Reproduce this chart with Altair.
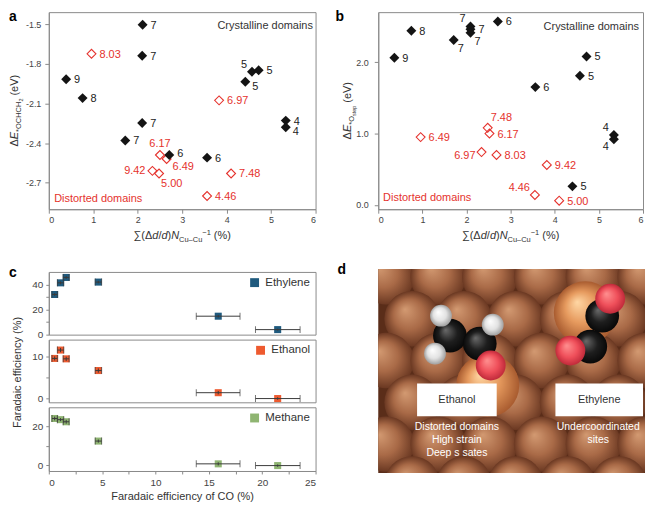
import altair as alt
import pandas as pd

FONT = "Liberation Sans"
RED = "#e5322d"
INK = "#141414"
TXT = "#333333"
FRAME = "#8a8a8a"

# ---------------- panel a : dE*OCHCH2 vs strain ----------------
a_cry_x = [2.11, 2.10, 0.39, 0.76, 4.57, 4.72, 4.42, 5.33, 5.33, 2.10, 1.72, 2.71, 3.56]
a_cry_y = [-1.505, -1.74, -1.917, -2.06, -1.86, -1.85, -1.937, -2.23, -2.28, -2.248, -2.38, -2.49, -2.51]
a_cry_lab = ["7", "7", "9", "8", "5", "5", "5", "4", "4", "7", "7", "6", "6"]
a_cry_pos = ["r", "r", "r", "r", "ul", "r", "rd", "r", "rd", "r", "r", "ru", "r"]
a_dis_x = [0.96, 3.83, 2.50, 2.65, 2.33, 2.48, 4.10, 3.56]
a_dis_y = [-1.725, -2.077, -2.49, -2.52, -2.61, -2.63, -2.63, -2.80]
a_dis_lab = ["8.03", "6.97", "6.17", "6.49", "9.42", "5.00", "7.48", "4.46"]
a_dis_pos = ["r", "r", "u", "rd3", "l", "dr", "r", "r"]
a_yticks = [-2.7, -2.4, -2.1, -1.8, -1.5]

# ---------------- panel b : dE*O vs strain ----------------
b_cry_x = [0.365, 0.75, 1.71, 2.09, 2.09, 2.09, 2.71, 4.72, 4.57, 3.56, 5.34, 5.34, 4.40]
b_cry_y = [2.06, 2.44, 2.31, 2.50, 2.46, 2.41, 2.57, 2.08, 1.81, 1.65, 0.98, 0.92, 0.26]
b_cry_lab = ["9", "8", "7", "7", "7", "7", "6", "5", "5", "6", "4", "4", "5"]
b_cry_pos = ["r", "r", "rd2", "ul", "r", "rd2", "r", "r", "r", "r", "ul", "dl", "r"]
b_dis_x = [0.96, 2.48, 2.52, 2.34, 2.68, 3.82, 3.55, 4.10]
b_dis_y = [0.95, 1.08, 1.00, 0.74, 0.70, 0.56, 0.14, 0.06]
b_dis_lab = ["6.49", "7.48", "6.17", "6.97", "8.03", "9.42", "4.46", "5.00"]
b_dis_pos = ["r", "ur", "r", "ld", "r", "r", "ul", "r"]
b_yticks = [0, 0.5, 1.0, 1.5, 2.0, 2.5]

# ---------------- panel c : Faradaic efficiencies ----------------
c_x = [0.55, 1.10, 1.63, 4.64, 15.88, 21.45]
c_xlo = [0.30, 0.80, 1.35, 4.35, 13.82, 19.37]
c_xhi = [0.80, 1.40, 1.90, 4.95, 17.92, 23.55]
eth_y = [32.0, 41.3, 45.6, 41.9, 14.7, 4.0]
eth_err = [1.2, 1.2, 1.2, 1.0, 1.0, 0.8]
etoh_y = [9.5, 11.5, 9.4, 6.6, 1.3, -0.1]
etoh_err = [0.5, 0.5, 0.5, 0.5, 0.4, 0.3]
ch4_y = [24.2, 23.6, 22.5, 12.5, 0.7, -0.2]
ch4_err = [1.0, 0.8, 1.0, 0.8, 0.8, 0.6]

# ---------------- panel d : illustration (units of the picture box) ----------------
sph_u = [8, 60, 112, 164, 216, 268,
         34, 86, 138, 190, 242,
         8, 60, 112, 164, 216, 268,
         34, 86, 138, 190, 242,
         8, 60, 112, 164, 216, 268,
         34, 86, 138, 190, 242]
sph_v = [8] * 6 + [50] * 5 + [92] * 6 + [134] * 5 + [176] * 6 + [216] * 5
cu_u, cu_v = [110, 208], [117, 44]
blk_u, blk_v = [72, 102, 225, 213], [67, 75, 47, 78]
wht_u, wht_v = [63, 115, 57], [47, 56, 85]
red_u, red_v = [113, 233, 193], [97, 30, 82]
box_u1, box_u2, box_v1, box_v2 = [39, 178], [119, 266], [115, 115], [148, 148]
box_txt, box_tu, box_tv = ["Ethanol", "Ethylene"], [79, 222], [132, 132]
note_txt = ["Distorted domains", "High strain", "Deep s sates", "Undercoordinated", "sites"]
note_u = [79, 79, 79, 221, 221]
note_v = [159, 172, 185, 159, 172]

ONE = pd.DataFrame({"k": [0]})

WID = {' ': .278, '(': .333, ')': .333, 'Δ': .668, 'd': .556, '/': .278, 'N': .722, 'C': .722,
       'u': .556, '–': .556, '−': .584, '1': .556, '%': .889, 'E': .667, '*': .389, 'O': .778,
       'H': .722, '2': .556, 'e': .556, 'V': .667, '∑': .72, 's': .5, 't': .278, 'p': .556}


def tw(t, s):
    return sum(WID.get(ch, .556) for ch in t) * s


def rich(pieces, cx, cy, angle=0):
    widths = [tw(t, s) for t, s, _, _ in pieces]
    off = -sum(widths) / 2
    out = []
    for (t, s, it, sh), w in zip(pieces, widths):
        lead = tw(t[:len(t) - len(t.lstrip())], s)
        o = off + lead
        if angle == 0:
            x, y = cx + o, cy + sh
        else:
            x, y = cx + sh, cy - o
        kw = dict(text=t.strip(), fontSize=s, align="left", baseline="alphabetic", color=TXT, font=FONT)
        if it:
            kw["fontStyle"] = "italic"
        if angle:
            kw["angle"] = angle
        out.append(alt.Chart(ONE).mark_text(**kw).encode(x=alt.value(x), y=alt.value(y)))
        off += w
    return out


def letter(ch, x, y):
    return alt.Chart(ONE).mark_text(text=ch, fontSize=14, fontWeight="bold", align="left",
                                    baseline="top", color="#000", font=FONT).encode(
        x=alt.value(x), y=alt.value(y))


PLACE = {"r": (8, 1, "left"), "ru": (8, -1, "left"), "rd": (7, 5, "left"), "rd3": (6, 8, "left"),
         "ul": (-5, -7, "right"), "u": (0, -11, "center"),
         "l": (-7, 0, "right"), "dr": (2, 11, "left"), "rd2": (4, 9, "left"), "dl": (-5, 8, "right"),
         "ur": (3, -10, "left"), "ld": (-6, 4, "right")}

XTITLE = [("∑(Δ", 11, False, 0), ("d", 11, True, 0), ("/", 11, False, 0), ("d", 11, True, 0),
          (")", 11, False, 0), ("N", 11, True, 0), ("Cu–Cu", 7.5, False, 3), ("−1", 7.5, False, -4),
          (" (%)", 11, False, 0)]


def scatter(cx, cy, clab, cpos, dx, dy, dlab, dpos, ydom, yvals, w, h, yt, yt_x, let, let_x,
            cr_xy, di_xy, ylabpad):
    cry = pd.DataFrame({"x": cx, "y": cy, "lab": clab, "pos": cpos})
    dis = pd.DataFrame({"x": dx, "y": dy, "lab": dlab, "pos": dpos})
    X = alt.X("x:Q", scale=alt.Scale(domain=[0, 6], nice=False),
              axis=alt.Axis(values=[0, 1, 2, 3, 4, 5, 6], title=None, tickSize=4, labelPadding=2))
    Y = alt.Y("y:Q", scale=alt.Scale(domain=ydom, nice=False, zero=False),
              axis=alt.Axis(values=yvals, title=None, tickSize=4, labelPadding=ylabpad,
                            labelExpr="replace(format(datum.value, '.1f'), '\u2212', '-')"))
    layers = [
        alt.Chart(dis).mark_point(shape="diamond", filled=False, color=RED, size=80, strokeWidth=1.1,
                                  opacity=1).encode(x=X, y=Y),
        alt.Chart(cry).mark_point(shape="diamond", filled=True, color=INK, size=100, opacity=1).encode(x=X, y=Y),
    ]
    for df, col in ((cry, "#222"), (dis, RED)):
        for p in sorted(set(df["pos"])):
            ddx, ddy, al = PLACE[p]
            layers.append(alt.Chart(df).transform_filter(alt.datum.pos == p).mark_text(
                dx=ddx, dy=ddy, align=al, baseline="middle", fontSize=11, color=col, font=FONT).encode(
                x=X, y=Y, text="lab:N"))
    layers.append(alt.Chart(ONE).mark_text(text="Crystalline domains", align="right", baseline="middle",
                                           fontSize=11, color=TXT, font=FONT).encode(
        x=alt.datum(cr_xy[0]), y=alt.datum(cr_xy[1])))
    layers.append(alt.Chart(ONE).mark_text(text="Distorted domains", align="left", baseline="middle",
                                           fontSize=11, color=RED, font=FONT).encode(
        x=alt.datum(di_xy[0]), y=alt.datum(di_xy[1])))
    layers += rich(XTITLE, w / 2, h + 30)
    layers += rich(yt, yt_x, h / 2, angle=270)
    layers.append(letter(let, let_x, -2))
    return alt.layer(*layers).properties(width=w, height=h)


pa = scatter(a_cry_x, a_cry_y, a_cry_lab, a_cry_pos, a_dis_x, a_dis_y, a_dis_lab, a_dis_pos,
             [-2.9, -1.41], a_yticks, 268, 198,
             [("Δ", 11, False, 0), ("E", 11, True, 0), ("*OCHCH", 7.5, False, 3), ("2", 5.5, False, 5),
              (" (eV)", 11, False, 0)], -31, "a", -40, (5.94, -1.513), (0.12, -2.82), 4)

pb = scatter(b_cry_x, b_cry_y, b_cry_lab, b_cry_pos, b_dis_x, b_dis_y, b_dis_lab, b_dis_pos,
             [-0.06, 2.7], b_yticks, 266, 198,
             [("Δ", 11, False, 0), ("E", 11, True, 0), ("*O", 7.5, False, 3), ("step", 5.5, False, 5),
              (" (eV)", 11, False, 0)], -27, "b", -43, (5.91, 2.49), (0.11, 0.095), 6)


def cpanel(name, ys, errs, color, ydom, yvals, ymod, h, show_x, extra=()):
    df = pd.DataFrame({"x": c_x, "xlo": c_xlo, "xhi": c_xhi, "y": ys,
                       "ylo": [a - b for a, b in zip(ys, errs)], "yhi": [a + b for a, b in zip(ys, errs)],
                       "s": [name] * len(c_x)})
    xs = alt.Scale(domain=[0, 25], nice=False)
    if show_x:
        xax = alt.Axis(values=[0, 2.5, 5, 7.5, 10, 12.5, 15, 17.5, 20, 22.5, 25],
                       labelExpr="datum.value % 5 == 0 ? format(datum.value, 'd') : ''",
                       title="Faradaic efficiency of CO (%)", tickSize=3, labelPadding=4, labelFontSize=10,
                       titleFontSize=11, titleFontWeight="normal", titlePadding=3)
    else:
        xax = None
    ysc = alt.Scale(domain=ydom, nice=False, zero=False)
    yax = alt.Axis(values=yvals, labelExpr=f"datum.value % {ymod} == 0 ? format(datum.value, 'd') : ''",
                   title=None, tickSize=3, labelPadding=3, labelFontSize=10)
    pts = alt.Chart(df).mark_square(size=50, opacity=1).encode(
        x=alt.X("x:Q", scale=xs, axis=xax), y=alt.Y("y:Q", scale=ysc, axis=yax),
        color=alt.Color("s:N", scale=alt.Scale(domain=[name], range=[color]),
                        legend=alt.Legend(orient="top-right", offset=5, title=None, symbolType="square",
                                          symbolSize=80, symbolStrokeWidth=0, labelFontSize=11.5,
                                          labelColor=TXT, labelFont=FONT, padding=0, labelOffset=5)))
    xe = alt.Chart(df).mark_errorbar(ticks=True, size=7, thickness=1, color="#3a3a3a").encode(
        x=alt.X("xlo:Q", scale=xs, axis=xax), x2="xhi:Q", y=alt.Y("y:Q", scale=ysc, axis=yax))
    ye = alt.Chart(df).mark_errorbar(thickness=1, color="#3a3a3a").encode(
        x=alt.X("x:Q", scale=xs, axis=xax), y=alt.Y("ylo:Q", scale=ysc, axis=yax), y2="yhi:Q")
    return alt.layer(pts, xe, ye, *extra).properties(width=268, height=h)


c_ytitle = alt.Chart(ONE).mark_text(text="Faradaic efficiency (%)", angle=270, align="center",
                                    baseline="alphabetic", fontSize=11, color=TXT, font=FONT).encode(
    x=alt.value(-28), y=alt.value(33))

c1 = cpanel("Ethylene", eth_y, eth_err, "#1f5a7e", [0, 50], [0, 10, 20, 30, 40], 20, 63, False,
            extra=(letter("c", -40, -6),))
c2 = cpanel("Ethanol", etoh_y, etoh_err, "#ee5a2f", [-1, 14], [0, 5, 10], 10, 63, False, extra=(c_ytitle,))
c3 = cpanel("Methane", ch4_y, ch4_err, "#8fb572", [-3, 30], [0, 10, 20], 20, 64, True)

spacer = alt.Chart(ONE).mark_point(opacity=0).encode(x=alt.value(0), y=alt.value(0)).properties(
    width=268, height=53, view=alt.ViewBackground(stroke="transparent"))

# ---------------- panel d ----------------
US = alt.Scale(domain=[0, 268], nice=False, zero=False)
VS = alt.Scale(domain=[0, 205], nice=False, zero=False, reverse=True)


def grad(stops):
    return alt.RadialGradient(gradient="radial", x1=0.37, y1=0.33, r1=0, x2=0.5, y2=0.5, r2=0.5,
                              stops=[alt.GradientStop(offset=o, color=c) for o, c in stops])


def balls(u, v, size, stops):
    df = pd.DataFrame({"u": u, "v": v})
    return alt.Chart(df).mark_circle(size=size, color=grad(stops), opacity=1, clip=True).encode(
        x=alt.X("u:Q", scale=US, axis=None), y=alt.Y("v:Q", scale=VS, axis=None))


d_bg = alt.Chart(ONE).mark_rect(color="#5a2d19").encode(
    x=alt.datum(0, scale=US, axis=None), x2=alt.datum(268), y=alt.datum(0, scale=VS, axis=None), y2=alt.datum(205))
d_sph = balls(sph_u, sph_v, 3100, [(0, "#d39a72"), (0.55, "#a96a47"), (1, "#6a3822")])
d_cu = balls(cu_u, cu_v, 4000, [(0, "#ffd7a4"), (0.5, "#e69a5e"), (1, "#a85b2f")])
d_blk = balls(blk_u, blk_v, 1150, [(0, "#6a6a6a"), (0.55, "#1e1e1e"), (1, "#080808")])
d_wht = balls(wht_u, wht_v, 480, [(0, "#ffffff"), (0.6, "#e2e2e2"), (1, "#a0a0a0")])
d_red = balls(red_u, red_v, 900, [(0, "#ff9090"), (0.6, "#ef4f5a"), (1, "#c02a3a")])
d_box = alt.Chart(pd.DataFrame({"u1": box_u1, "u2": box_u2, "v1": box_v1, "v2": box_v2})).mark_rect(
    color="white").encode(x=alt.X("u1:Q", scale=US, axis=None), x2="u2:Q",
                          y=alt.Y("v1:Q", scale=VS, axis=None), y2="v2:Q")
d_boxt = alt.Chart(pd.DataFrame({"t": box_txt, "u": box_tu, "v": box_tv})).mark_text(
    fontSize=11, color=TXT, font=FONT, baseline="middle").encode(
    x=alt.X("u:Q", scale=US, axis=None), y=alt.Y("v:Q", scale=VS, axis=None), text="t:N")
d_note = alt.Chart(pd.DataFrame({"t": note_txt, "u": note_u, "v": note_v})).mark_text(
    fontSize=10.5, color="white", font=FONT, baseline="middle").encode(
    x=alt.X("u:Q", scale=US, axis=None), y=alt.Y("v:Q", scale=VS, axis=None), text="t:N")

pdd = alt.layer(d_bg, d_sph, d_cu, d_blk, d_wht, d_red, d_box, d_boxt, d_note, letter("d", -41, -6)).properties(
    width=268, height=205, view=alt.ViewBackground(stroke="transparent"))

left_col = alt.vconcat(pa, spacer, c1, c2, c3, spacing=5, bounds="flush").resolve_scale(color="independent")
right_col = alt.vconcat(pb, pdd, spacing=60, bounds="flush")

chart = alt.hconcat(left_col, right_col, spacing=18).resolve_scale(color="independent").properties(
    padding=0).configure(font=FONT).configure_axis(
    grid=False, domainColor=FRAME, tickColor=FRAME, labelColor="#444", labelFontSize=9,
    labelFont=FONT, titleFont=FONT, titleColor=TXT).configure_view(stroke=FRAME)

chart.save("out.html", embed_options={"renderer": "svg", "actions": False})
